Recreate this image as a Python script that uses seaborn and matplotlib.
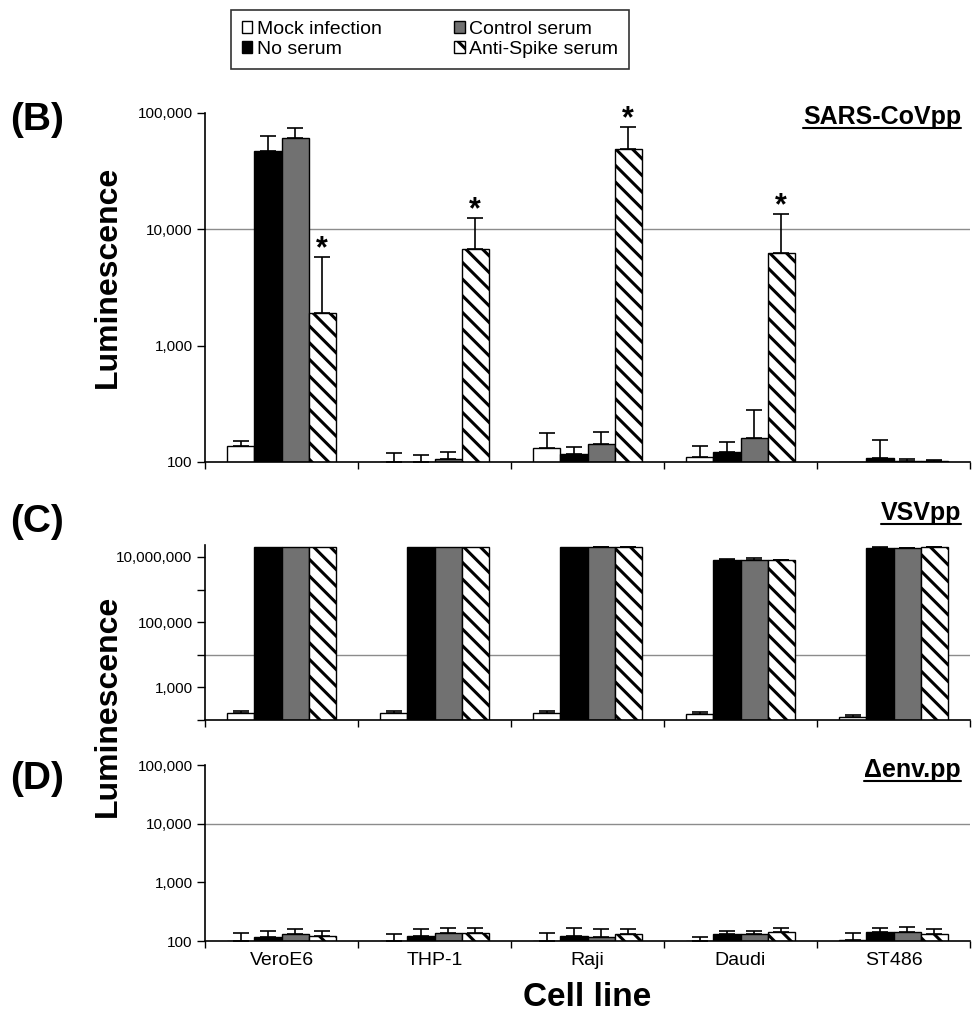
import numpy as np
import pandas as pd
import matplotlib
matplotlib.use("Agg")
import matplotlib.pyplot as plt
import seaborn as sns
from matplotlib.patches import Patch
from matplotlib.lines import Line2D
from matplotlib.ticker import FixedLocator, NullLocator

# ---- data ----
cell_lines = ['VeroE6', 'THP-1', 'Raji', 'Daudi', 'ST486']
groups = ['Mock infection', 'No serum', 'Control serum', 'Anti-Spike serum']

# (B) SARS-CoVpp: bar value and top of error bar
sars_mock = [137, 100, 132, 110, 100]
sars_mock_err = [152, 120, 177, 137, 100]
sars_none = [47000, 100, 117, 122, 108]
sars_none_err = [63000, 115, 135, 149, 155]
sars_ctrl = [61000, 106, 143, 161, 101]
sars_ctrl_err = [74500, 122, 181, 280, 106]
sars_anti = [1900, 6750, 49000, 6250, 101]
sars_anti_err = [5800, 12500, 76000, 13500, 103]
sars_star = [True, True, True, True, False]

# (C) VSVpp
vsv_mock = [165, 165, 165, 150, 125]
vsv_mock_err = [190, 190, 190, 175, 142]
vsv_none = [2.0e7, 2.0e7, 2.0e7, 8.1e6, 1.9e7]
vsv_none_err = [2.0e7, 2.0e7, 2.0e7, 8.4e6, 1.95e7]
vsv_ctrl = [2.0e7, 2.0e7, 1.95e7, 7.9e6, 1.85e7]
vsv_ctrl_err = [2.0e7, 2.0e7, 2.05e7, 9.2e6, 1.9e7]
vsv_anti = [2.0e7, 2.0e7, 1.98e7, 8.0e6, 1.97e7]
vsv_anti_err = [2.0e7, 2.0e7, 2.02e7, 8.2e6, 1.98e7]

# (D) delta-env pp
env_mock = [100, 100, 100, 100, 103]
env_mock_err = [137, 131, 137, 117, 137]
env_none = [117, 122, 122, 131, 142]
env_none_err = [148, 160, 167, 148, 167]
env_ctrl = [131, 137, 118, 131, 142]
env_ctrl_err = [160, 167, 160, 148, 175]
env_anti = [122, 137, 131, 142, 131]
env_anti_err = [148, 167, 160, 167, 160]

palette = {'Mock infection': 'white', 'No serum': 'black',
           'Control serum': '#717171', 'Anti-Spike serum': 'white'}

sns.set_style('ticks')
plt.rcParams['font.family'] = ['Liberation Sans', 'DejaVu Sans']
plt.rcParams['hatch.linewidth'] = 2.2
plt.rcParams['hatch.color'] = 'black'
for key in ['text.color', 'axes.labelcolor', 'xtick.color', 'ytick.color', 'axes.edgecolor']:
    plt.rcParams[key] = 'black'


def make_frame(series):
    rows = []
    for g, vals in zip(groups, series):
        for c, v in zip(cell_lines, vals):
            rows.append({'cell': c, 'group': g, 'value': v})
    return pd.DataFrame(rows)


def draw_panel(ax, series, err_tops, ylim, yticks, ylabels, stars=None):
    df = make_frame(series)
    sns.barplot(data=df, x='cell', y='value', hue='group', order=cell_lines,
                hue_order=groups, palette=palette, width=0.71, saturation=1,
                edgecolor='black', linewidth=1, errorbar=None, legend=False, ax=ax)
    ax.set_yscale('log')
    ax.set_ylim(*ylim)
    ax.set_xlim(-0.5, 4.5)

    # hatch the anti-spike bars, add upper error bars
    bar_sets = list(ax.containers)
    for gi, cont in enumerate(bar_sets):
        for ci, bar in enumerate(cont):
            if groups[gi] == 'Anti-Spike serum':
                bar.set_hatch('\\\\')
            x = bar.get_x() + bar.get_width() / 2
            v = series[gi][ci]
            top = err_tops[gi][ci]
            if top > v:
                ax.errorbar(x, v, yerr=[[0], [top - v]], fmt='none', ecolor='black',
                            elinewidth=1.2, capsize=6, capthick=1.2, zorder=3)
            if stars is not None and groups[gi] == 'Anti-Spike serum' and stars[ci]:
                ax.annotate('*', xy=(x, top), xytext=(0, 0), textcoords='offset points',
                            ha='center', va='baseline', fontsize=22, fontweight='bold')

    ax.axhline(1e4, color='#8c8c8c', lw=1, zorder=0)

    ax.yaxis.set_major_locator(FixedLocator(yticks))
    ax.set_yticklabels(ylabels)
    ax.yaxis.set_minor_locator(NullLocator())
    ax.set_xticks(range(len(cell_lines)))
    ax.set_xticks(np.arange(-0.5, len(cell_lines), 1), minor=True)
    ax.tick_params(axis='x', which='major', length=0, labelsize=14, pad=8)
    ax.tick_params(axis='x', which='minor', length=5, width=1, direction='out', color='black')
    ax.tick_params(axis='y', length=6, width=1, direction='out', labelsize=11, pad=3, color='black')
    ax.set_xlabel('')
    ax.set_ylabel('')
    sns.despine(ax=ax)
    for sp in ['left', 'bottom']:
        ax.spines[sp].set_color('black')
        ax.spines[sp].set_linewidth(1.2)


fig = plt.figure(figsize=(9.75, 10.16), dpi=100)
axB = fig.add_axes([0.2103, 0.5453, 0.7846, 0.3435])
axC = fig.add_axes([0.2103, 0.2913, 0.7846, 0.1722])
axD = fig.add_axes([0.2103, 0.0738, 0.7846, 0.1732])

draw_panel(axB, [sars_mock, sars_none, sars_ctrl, sars_anti],
           [sars_mock_err, sars_none_err, sars_ctrl_err, sars_anti_err],
           (100, 1e5), [100, 1e3, 1e4, 1e5], ['100', '1,000', '10,000', '100,000'],
           stars=sars_star)
draw_panel(axC, [vsv_mock, vsv_none, vsv_ctrl, vsv_anti],
           [vsv_mock_err, vsv_none_err, vsv_ctrl_err, vsv_anti_err],
           (100, 2.3e7), [1e2, 1e3, 1e4, 1e5, 1e6, 1e7],
           ['', '1,000', '', '100,000', '', '10,000,000'])
draw_panel(axD, [env_mock, env_none, env_ctrl, env_anti],
           [env_mock_err, env_none_err, env_ctrl_err, env_anti_err],
           (100, 1e5), [100, 1e3, 1e4, 1e5], ['100', '1,000', '10,000', '100,000'])

axB.set_xticklabels([])
axC.set_xticklabels([])
axD.set_xticklabels(cell_lines)

W, H = 975, 1016
fig.text(108 / W, 1 - 277 / H, 'Luminescence', rotation=90, ha='center', va='center',
         fontsize=23, fontweight='bold')
fig.text(108 / W, 1 - 706 / H, 'Luminescence', rotation=90, ha='center', va='center',
         fontsize=23, fontweight='bold')
fig.text(587 / W, 1 - 997 / H, 'Cell line', ha='center', va='center',
         fontsize=24, fontweight='bold')

for lab, yc in [('(B)', 120), ('(C)', 522), ('(D)', 779)]:
    fig.text(10 / W, 1 - yc / H, lab, ha='left', va='center', fontsize=28, fontweight='bold')

titles = []
for lab, yc in [('SARS-CoVpp', 117), ('VSVpp', 513), ('\u0394env.pp', 770)]:
    titles.append(fig.text(961 / W, 1 - yc / H, lab, ha='right', va='center',
                           fontsize=18, fontweight='bold'))

handles = [Patch(facecolor=palette[g], edgecolor='black', linewidth=1,
                 hatch='\\\\' if g == 'Anti-Spike serum' else None) for g in groups]
leg = fig.legend(handles, groups, ncol=2, loc='center', bbox_to_anchor=(430 / W, 1 - 39.5 / H),
                 fontsize=14, frameon=True, fancybox=False, edgecolor='black',
                 handlelength=0.55, handleheight=0.55, handletextpad=0.25,
                 columnspacing=3.7, labelspacing=0.15, borderpad=0.55)
leg.get_frame().set_linewidth(1.2)

# underline the panel titles
fig.canvas.draw()
renderer = fig.canvas.get_renderer()
for t in titles:
    bb = t.get_window_extent(renderer)
    y = (bb.y0 + 1) / H
    fig.add_artist(Line2D([bb.x0 / W, bb.x1 / W], [y, y], color='black', lw=1.5,
                          transform=fig.transFigure))

fig.savefig('out.png', dpi=100)
